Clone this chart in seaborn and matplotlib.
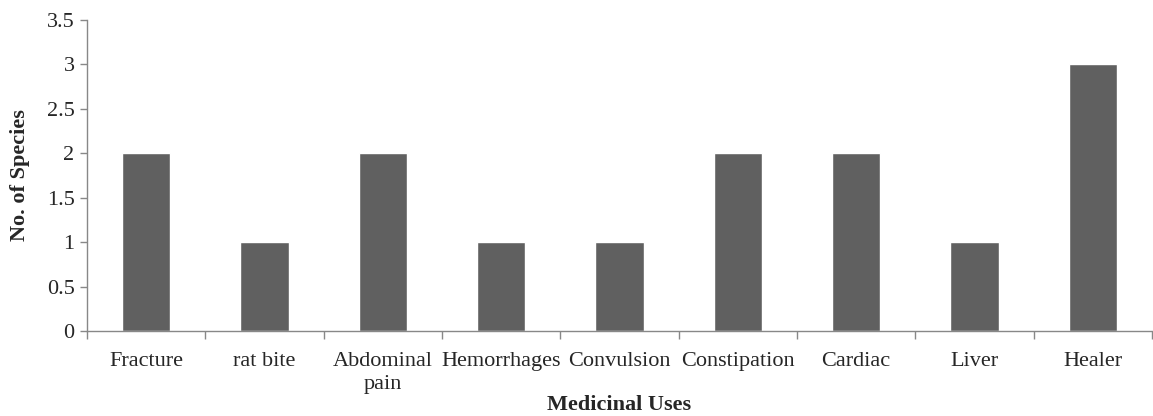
import numpy as np
import pandas as pd
import matplotlib
matplotlib.use("Agg")
import matplotlib.pyplot as plt
import seaborn as sns

uses = ["Fracture", "rat bite", "Abdominal\npain", "Hemorrhages", "Convulsion",
        "Constipation", "Cardiac", "Liver", "Healer"]
species = [2, 1, 2, 1, 1, 2, 2, 1, 3]
yticks = [0, 0.5, 1, 1.5, 2, 2.5, 3, 3.5]
ytick_labels = ["0", "0.5", "1", "1.5", "2", "2.5", "3", "3.5"]

df = pd.DataFrame({"Use": uses, "Species": species})

sns.set_style("white")
plt.rcParams['font.family'] = ['Liberation Serif', 'DejaVu Serif']

fig = plt.figure(figsize=(11.53, 4.16), dpi=100)
ax = fig.add_axes([0.0755, 0.2043, 0.9236, 0.7477])

sns.barplot(data=df, x="Use", y="Species", color="#606060", width=0.41,
            saturation=1, ax=ax)

ax.set_ylim(0, 3.5)
ax.set_xlim(-0.5, len(uses) - 0.5)
ax.set_yticks(yticks)
ax.set_yticklabels(ytick_labels, fontsize=16)
ax.set_xticks(np.arange(-0.5, len(uses), 1), minor=True)
ax.tick_params(axis='x', which='major', bottom=True, length=0, labelsize=16, pad=15)
ax.tick_params(axis='x', which='minor', bottom=True, length=6, width=1,
               color="#888888", direction='out')
ax.tick_params(axis='y', which='major', left=True, length=5, width=1,
               color="#888888", direction='out', pad=4)
for lbl in ax.get_xticklabels():
    lbl.set_linespacing(1.3)

for s in ["top", "right"]:
    ax.spines[s].set_visible(False)
for s in ["left", "bottom"]:
    ax.spines[s].set_color("#888888")
    ax.spines[s].set_linewidth(1)

ax.set_xlabel("Medicinal Uses", fontsize=16, fontweight="bold")
ax.xaxis.set_label_coords(0.5, -0.205)
ax.set_ylabel("No. of Species", fontsize=16, fontweight="bold", labelpad=12)

fig.savefig("out.png", dpi=100)
